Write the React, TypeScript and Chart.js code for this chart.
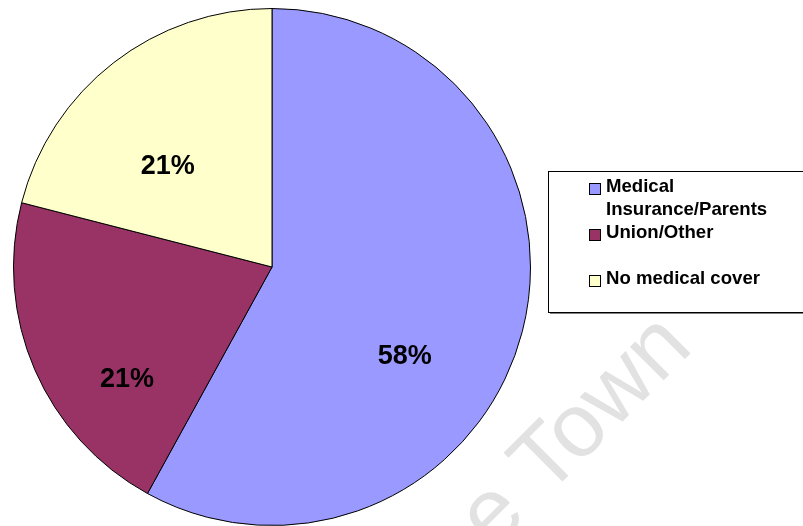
import React, { useEffect, useRef } from "react";
import { Chart, registerables } from "chart.js";

Chart.register(...registerables);

const categories = ["Medical Insurance/Parents", "Union/Other", "No medical cover"];
const values = [58, 21, 21];
const colors = ["#9999FF", "#993366", "#FFFFCC"];
const watermarkText = "University of Cape Town";

// label placement inside each slice: fraction of slice angle, fraction of radius
const labelAngleT = [0.594, 0.31, 0.39];
const labelRadiusF = [0.62, 0.71, 0.56];

const FONT = '"Liberation Sans", Arial, sans-serif';

const watermarkPlugin = {
  id: "watermark",
  beforeDatasetsDraw(chart: any) {
    const ctx = chart.ctx;
    ctx.save();
    ctx.translate(546, 498);
    ctx.rotate((-45 * Math.PI) / 180);
    ctx.font = `90px ${FONT}`;
    ctx.fillStyle = "#e2e2e2";
    ctx.textAlign = "left";
    ctx.textBaseline = "alphabetic";
    const prefix = watermarkText.slice(0, watermarkText.lastIndexOf(" ") + 1);
    ctx.fillText(watermarkText, -ctx.measureText(prefix).width, 0);
    ctx.restore();
  },
};

const sliceLabelPlugin = {
  id: "sliceLabels",
  afterDatasetsDraw(chart: any) {
    const ctx = chart.ctx;
    const meta = chart.getDatasetMeta(0);
    const data = chart.data.datasets[0].data as number[];
    const total = data.reduce((a, b) => a + b, 0);
    ctx.save();
    ctx.font = `bold 27px ${FONT}`;
    ctx.fillStyle = "#000";
    ctx.textAlign = "center";
    ctx.textBaseline = "middle";
    meta.data.forEach((arc: any, i: number) => {
      const p = arc.getProps(["x", "y", "startAngle", "endAngle", "outerRadius"], true);
      const a = p.startAngle + labelAngleT[i] * (p.endAngle - p.startAngle);
      const r = p.outerRadius * labelRadiusF[i];
      const txt = Math.round((data[i] / total) * 100) + "%";
      ctx.fillText(txt, p.x + Math.cos(a) * r, p.y + Math.sin(a) * r);
    });
    ctx.restore();
  },
};

function wrap(ctx: CanvasRenderingContext2D, text: string, maxW: number): string[] {
  const words = text.split(" ");
  const lines: string[] = [];
  let cur = "";
  for (const w of words) {
    const test = cur ? cur + " " + w : w;
    if (ctx.measureText(test).width > maxW && cur) {
      lines.push(cur);
      cur = w;
    } else cur = test;
  }
  if (cur) lines.push(cur);
  return lines;
}

const legendPlugin = {
  id: "boxLegend",
  afterDraw(chart: any) {
    const ctx = chart.ctx;
    const bx = 548, by = 171, bw = 270, bh = 141;
    ctx.save();
    ctx.fillStyle = "#808080";
    ctx.fillRect(bx + 2, by + 2, bw, bh);
    ctx.fillStyle = "#fff";
    ctx.fillRect(bx, by, bw, bh);
    ctx.strokeStyle = "#000";
    ctx.lineWidth = 1;
    ctx.strokeRect(bx + 0.5, by + 0.5, bw, bh);

    ctx.font = `bold 18.6px ${FONT}`;
    ctx.textAlign = "left";
    ctx.textBaseline = "alphabetic";
    const lineH = 23;
    const slotH = 46;
    const textX = 606;
    const sqX = 589;
    const firstBaseline = 192;
    const bg = chart.data.datasets[0].backgroundColor as string[];
    (chart.data.labels as string[]).forEach((lab, i) => {
      const base = firstBaseline + i * slotH;
      ctx.fillStyle = bg[i];
      ctx.fillRect(sqX, base - 9, 12, 12);
      ctx.strokeStyle = "#000";
      ctx.strokeRect(sqX + 0.5, base - 9 + 0.5, 11, 11);
      ctx.fillStyle = "#000";
      const lines = wrap(ctx, lab, 190);
      lines.forEach((ln, j) => ctx.fillText(ln, textX, base + j * lineH));
    });
    ctx.restore();
  },
};

export default function App() {
  const ref = useRef<HTMLCanvasElement>(null);
  useEffect(() => {
    document.body.style.margin = "0";
    const chart = new Chart(ref.current!, {
      type: "pie",
      data: {
        labels: categories,
        datasets: [
          {
            data: values,
            backgroundColor: colors,
            borderColor: "#000",
            borderWidth: 1,
          },
        ],
      },
      options: {
        responsive: false,
        animation: false,
        devicePixelRatio: 1,
        layout: { padding: { left: 12, right: 271, top: 8, bottom: 0 } },
        plugins: { legend: { display: false }, tooltip: { enabled: false } },
      },
      plugins: [watermarkPlugin, sliceLabelPlugin, legendPlugin],
    });
    return () => chart.destroy();
  }, []);
  return (
    <div style={{ position: "fixed", left: 0, top: 0, width: 803, height: 526, background: "#fff" }}>
      <canvas ref={ref} width={803} height={526} />
    </div>
  );
}
